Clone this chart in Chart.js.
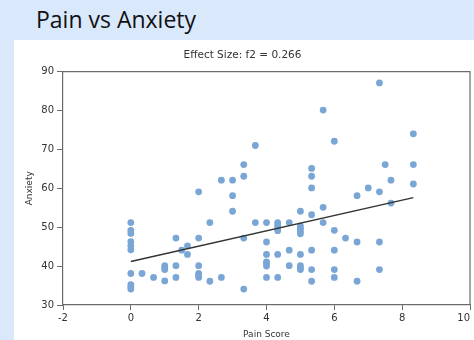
<!DOCTYPE html>
<html>
<head>
<meta charset="utf-8">
<script src="https://cdn.jsdelivr.net/npm/chart.js@4"></script>
<style>
  html, body { margin: 0; padding: 0; }
  body { width: 474px; height: 340px; background: #dae8fb; position: relative; overflow: hidden; }
  #heading { position: absolute; left: 36px; top: 8px; font-family: "Open Sans", Lato, sans-serif; font-size: 23px; line-height: 23px; color: #111; white-space: nowrap; }
  #panel { position: absolute; left: 14px; top: 40px; width: 460px; height: 300px; background: #fff; }
  canvas { display: block; }
</style>
</head>
<body>
<div id="heading">Pain vs Anxiety</div>
<div id="panel"><canvas id="chart" width="460" height="300"></canvas></div>
<script>
// Observations: pain score (x) and anxiety (y), one entry per respondent
const painScore = [
  0, 0, 0, 0, 0, 0, 0, 0, 0, 0,
  0.33, 0.67,
  1, 1, 1, 1,
  1.33, 1.33, 1.33,
  1.5,
  1.67, 1.67,
  2, 2, 2, 2, 2, 2,
  2.33, 2.33,
  2.67, 2.67,
  3, 3, 3,
  3.33, 3.33, 3.33, 3.33,
  3.67, 3.67,
  4, 4, 4, 4, 4, 4, 4,
  4.33, 4.33, 4.33, 4.33, 4.33, 4.33,
  4.67, 4.67, 4.67,
  5, 5, 5, 5, 5, 5, 5, 5, 5,
  5.33, 5.33, 5.33, 5.33, 5.33, 5.33, 5.33,
  5.67, 5.67, 5.67,
  6, 6, 6, 6, 6,
  6.33,
  6.67, 6.67, 6.67,
  7,
  7.33, 7.33, 7.33, 7.33,
  7.5,
  7.67, 7.67,
  8.33, 8.33, 8.33
];
const anxiety = [
  51.2, 49.2, 48.4, 46.3, 45.2, 44.2, 38.1, 35.2, 34.6, 34.1,
  38.1, 37.1,
  40.1, 39.6, 39.1, 36.2,
  47.2, 40.1, 37.1,
  44.1,
  45.2, 43.0,
  59.1, 47.2, 40.1, 38.1, 37.6, 37.1,
  51.2, 36.1,
  62.1, 37.1,
  62.1, 58.1, 54.1,
  66.1, 63.1, 47.2, 34.1,
  71.0, 51.2,
  51.2, 46.2, 43.0, 41.1, 40.6, 40.0, 37.1,
  51.2, 50.5, 49.8, 49.1, 43.0, 37.1,
  51.2, 44.1, 40.1,
  54.1, 50.3, 49.7, 49.0, 48.3, 43.0, 40.1, 39.6, 39.1,
  65.1, 63.1, 60.1, 53.2, 44.1, 39.1, 36.1,
  80.1, 55.1, 51.2,
  72.1, 49.2, 44.1, 39.1, 37.1,
  47.2,
  58.1, 46.2, 36.1,
  60.1,
  87.1, 59.1, 46.2, 39.1,
  66.1,
  62.1, 56.2,
  74.0, 66.1, 61.1
];
// Fitted regression line end points
const fitX = [0, 8.33];
const fitY = [41.2, 57.6];
// Axis tick settings
const xTickRange = [-2, 10, 2];
const yTickRange = [30, 90, 10];
const chartTitle = 'Effect Size: f2 = 0.266';
const xTitle = 'Pain Score';
const yTitle = 'Anxiety';

const tickFont = { family: 'DejaVu Sans', size: 10 };

// Draws the top and right frame lines around the plotting area
const frame = {
  id: 'frame',
  afterDatasetsDraw(chart) {
    const { ctx, chartArea: a } = chart;
    ctx.save();
    ctx.strokeStyle = '#6b6b6b';
    ctx.lineWidth = 1.2;
    ctx.beginPath();
    ctx.moveTo(a.left, a.top);
    ctx.lineTo(a.right, a.top);
    ctx.lineTo(a.right, a.bottom);
    ctx.stroke();
    ctx.restore();
  }
};

new Chart(document.getElementById('chart'), {
  type: 'scatter',
  data: {
    datasets: [
      {
        type: 'scatter',
        data: painScore.map((x, i) => ({ x, y: anxiety[i] })),
        backgroundColor: 'rgb(122,166,214)',
        borderWidth: 0,
        pointRadius: 3.4,
        order: 2
      },
      {
        type: 'line',
        data: fitX.map((x, i) => ({ x, y: fitY[i] })),
        borderColor: '#333333',
        borderWidth: 1.5,
        pointRadius: 0,
        fill: false,
        order: 1
      }
    ]
  },
  options: {
    responsive: false,
    animation: false,
    devicePixelRatio: 1,
    layout: { padding: { left: 0, right: 3, top: 0, bottom: 0 } },
    plugins: {
      legend: { display: false },
      tooltip: { enabled: false },
      title: {
        display: true,
        text: chartTitle,
        color: '#333',
        font: { family: 'DejaVu Sans', size: 10.5, weight: 'normal' },
        padding: { top: 9, bottom: 10 }
      }
    },
    scales: {
      x: {
        type: 'linear',
        min: xTickRange[0],
        max: xTickRange[1],
        ticks: {
          stepSize: xTickRange[2], color: '#333', font: tickFont, padding: 2, maxRotation: 0,
          // the last label sits flush left of its tick at the frame edge
          callback: (v) => (v === xTickRange[1] ? v + '\u2007\u2007' : String(v))
        },
        grid: { display: true, drawOnChartArea: false, drawTicks: true, tickLength: 5, color: '#6b6b6b', lineWidth: 1 },
        border: { display: true, color: '#6b6b6b', width: 1.2 },
        title: { display: true, text: xTitle, color: '#333', font: { family: 'DejaVu Sans', size: 9 }, padding: { top: 3, bottom: 0 } },
        afterFit(s) { s.height = 35; s.paddingLeft = 0; s.paddingRight = 0; }
      },
      y: {
        type: 'linear',
        min: yTickRange[0],
        max: yTickRange[1],
        ticks: { stepSize: yTickRange[2], color: '#333', font: tickFont, padding: 3 },
        grid: { display: true, drawOnChartArea: false, drawTicks: true, tickLength: 6, color: '#6b6b6b', lineWidth: 1 },
        border: { display: true, color: '#6b6b6b', width: 1.2 },
        title: { display: true, text: yTitle, color: '#333', font: { family: 'DejaVu Sans', size: 9 }, padding: { top: 10, bottom: 0 } },
        afterFit(s) { s.width = 49; s.paddingTop = 0; s.paddingBottom = 0; }
      }
    }
  },
  plugins: [frame]
});
</script>
</body>
</html>
